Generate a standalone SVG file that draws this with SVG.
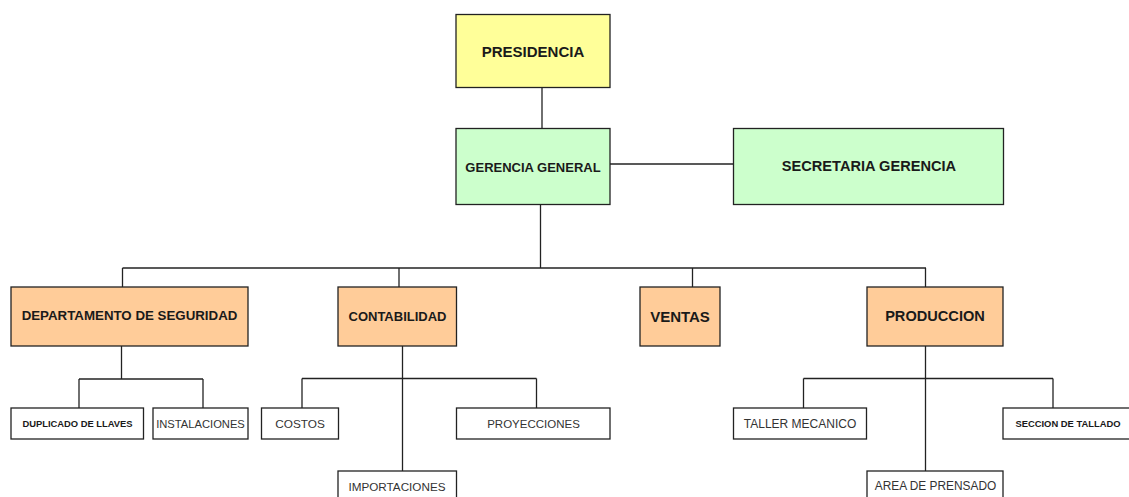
<svg xmlns="http://www.w3.org/2000/svg" width="1129" height="497" viewBox="0 0 1129 497">
<style>
rect{stroke:#222;stroke-width:1.3}
.y{fill:#FFFF99}.g{fill:#CCFFCC}.o{fill:#FFCC99}.w{fill:#fff}
text{font-family:"Liberation Sans",Arial,sans-serif;text-anchor:middle;dominant-baseline:central}
.b{font-weight:bold;fill:#1a1a1a}
.n{fill:#333}
.c line{stroke:#222;stroke-width:1.3}
</style>
<rect width="1129" height="497" fill="#fff" style="stroke:none"/>
<g class="c" id="connectors">
<line x1="542" y1="88" x2="542" y2="128"/>
<line x1="610" y1="164" x2="734" y2="164"/>
<line x1="540.5" y1="205" x2="540.5" y2="268"/>
<line x1="122.5" y1="268" x2="926" y2="268"/>
<line x1="122.5" y1="268" x2="122.5" y2="287"/>
<line x1="399" y1="268" x2="399" y2="287"/>
<line x1="692.5" y1="268" x2="692.5" y2="287"/>
<line x1="925.5" y1="268" x2="925.5" y2="287"/>
<line x1="121.5" y1="346" x2="121.5" y2="379"/>
<line x1="79" y1="379" x2="203" y2="379"/>
<line x1="79" y1="379" x2="79" y2="408"/>
<line x1="203" y1="379" x2="203" y2="408"/>
<line x1="402.5" y1="346" x2="402.5" y2="471"/>
<line x1="302" y1="378.5" x2="536.5" y2="378.5"/>
<line x1="302" y1="378.5" x2="302" y2="408"/>
<line x1="536.5" y1="378.5" x2="536.5" y2="408"/>
<line x1="925.5" y1="346" x2="925.5" y2="471"/>
<line x1="803.5" y1="378.5" x2="1053" y2="378.5"/>
<line x1="803.5" y1="378.5" x2="803.5" y2="408"/>
<line x1="1053" y1="378.5" x2="1053" y2="408"/>
</g>
<g id="presidencia"><rect class="y" x="456" y="14.5" width="154" height="73"/><text class="b" x="533" y="51" font-size="15">PRESIDENCIA</text></g>
<g id="gerencia"><rect class="g" x="456" y="128.5" width="154" height="76"/><text class="b" x="533" y="167" font-size="13">GERENCIA GENERAL</text></g>
<g id="secretaria"><rect class="g" x="733.5" y="128.5" width="270" height="76"/><text class="b" x="869" y="166" font-size="14.6">SECRETARIA GERENCIA</text></g>
<g id="seguridad"><rect class="o" x="11" y="287" width="237" height="59"/><text class="b" x="129.5" y="315" font-size="13.3">DEPARTAMENTO DE SEGURIDAD</text></g>
<g id="contabilidad"><rect class="o" x="338" y="287" width="118.5" height="59"/><text class="b" x="397.5" y="316" font-size="13">CONTABILIDAD</text></g>
<g id="ventas"><rect class="o" x="640" y="287" width="80" height="59"/><text class="b" x="680" y="316" font-size="15">VENTAS</text></g>
<g id="produccion"><rect class="o" x="867" y="287" width="136" height="59"/><text class="b" x="935" y="316" font-size="14.6">PRODUCCION</text></g>
<g id="duplicado"><rect class="w" x="11" y="408" width="132.5" height="31"/><text class="b" x="77.5" y="423.5" font-size="9.4" style="font-weight:bold">DUPLICADO DE LLAVES</text></g>
<g id="instalaciones"><rect class="w" x="153" y="408" width="95" height="31"/><text class="n" x="200.5" y="423.5" font-size="11.2">INSTALACIONES</text></g>
<g id="costos"><rect class="w" x="261.5" y="408" width="77" height="31"/><text class="n" x="300" y="423.5" font-size="11.8">COSTOS</text></g>
<g id="proyecciones"><rect class="w" x="456.5" y="408" width="153.5" height="31"/><text class="n" x="533.5" y="423.5" font-size="11.5">PROYECCIONES</text></g>
<g id="importaciones"><rect class="w" x="338" y="471" width="118.5" height="35"/><text class="n" x="397" y="486" font-size="11.7">IMPORTACIONES</text></g>
<g id="taller"><rect class="w" x="733.5" y="408" width="133" height="31"/><text class="n" x="800" y="423.5" font-size="12">TALLER MECANICO</text></g>
<g id="tallado"><rect class="w" x="1003" y="408" width="135" height="31"/><text class="b" x="1068" y="423.5" font-size="9.4">SECCION DE TALLADO</text></g>
<g id="prensado"><rect class="w" x="867" y="471" width="136" height="35"/><text class="n" x="935.5" y="486" font-size="11.9">AREA DE PRENSADO</text></g>
</svg>
